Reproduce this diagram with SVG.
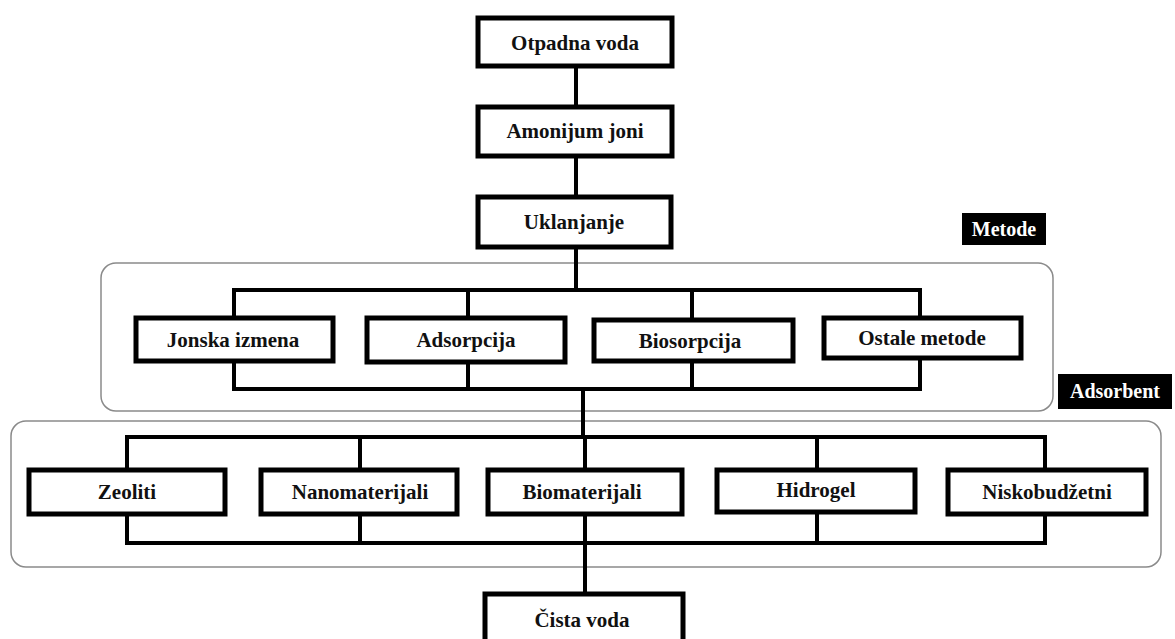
<svg xmlns="http://www.w3.org/2000/svg" width="1175" height="639" viewBox="0 0 1175 639">
<style>
.box{fill:#fff;stroke:#000;stroke-width:5}
.t{font-family:'Liberation Serif','DejaVu Serif',serif;font-weight:700;font-size:21px;fill:#111;text-anchor:middle;dominant-baseline:central}
.lbl{fill:#000}
.lt{font-family:'Liberation Serif','DejaVu Serif',serif;font-weight:700;font-size:20px;fill:#fff;text-anchor:middle;dominant-baseline:central}
.grp{fill:none;stroke:#8a8a8a;stroke-width:1.5}
.c{fill:none;stroke:#000;stroke-width:4}
</style>
<rect width="1175" height="639" fill="#fff"/>
<g id="groups">
<rect class="grp" x="101" y="263" width="952" height="148" rx="15"/>
<rect class="grp" x="11" y="421" width="1150" height="146" rx="15"/>
</g>
<g id="connectors">
<line class="c" x1="576" y1="66" x2="576" y2="107"/>
<line class="c" x1="576" y1="156" x2="576" y2="197"/>
<line class="c" x1="576" y1="247" x2="576" y2="290"/>
<polyline class="c" points="234,318 234,290 920,290 920,318"/>
<line class="c" x1="468" y1="290" x2="468" y2="318"/>
<line class="c" x1="692" y1="290" x2="692" y2="320"/>
<polyline class="c" points="234,361 234,389 920,389 920,358"/>
<line class="c" x1="468" y1="362" x2="468" y2="389"/>
<line class="c" x1="692" y1="361" x2="692" y2="389"/>
<line class="c" x1="583" y1="389" x2="583" y2="437"/>
<polyline class="c" points="127,470 127,437 1045,437 1045,470"/>
<line class="c" x1="360" y1="437" x2="360" y2="470"/>
<line class="c" x1="585" y1="437" x2="585" y2="470"/>
<line class="c" x1="817" y1="437" x2="817" y2="470"/>
<polyline class="c" points="127,514 127,543 1045,543 1045,514"/>
<line class="c" x1="360" y1="514" x2="360" y2="543"/>
<line class="c" x1="817" y1="514" x2="817" y2="543"/>
<line class="c" x1="585" y1="514" x2="585" y2="594"/>
</g>
<g id="otpadna"><rect class="box" x="478" y="18" width="194" height="48"/><text class="t" x="575" y="43">Otpadna voda</text></g>
<g id="amonijum"><rect class="box" x="478" y="107" width="194" height="49"/><text class="t" x="575" y="131">Amonijum joni</text></g>
<g id="uklanjanje"><rect class="box" x="478" y="197" width="193" height="50"/><text class="t" x="574" y="222">Uklanjanje</text></g>
<g id="metode"><rect class="lbl" x="962" y="213" width="84" height="32"/><text class="lt" x="1004" y="229">Metode</text></g>
<g id="adsorbent"><rect class="lbl" x="1058" y="374" width="114" height="35"/><text class="lt" x="1115" y="391">Adsorbent</text></g>
<g id="jonska"><rect class="box" x="136" y="318" width="197" height="43"/><text class="t" x="233" y="340">Jonska izmena</text></g>
<g id="adsorpcija"><rect class="box" x="367" y="318" width="198" height="44"/><text class="t" x="466" y="340">Adsorpcija</text></g>
<g id="biosorpcija"><rect class="box" x="594" y="320" width="199" height="41"/><text class="t" x="690" y="341">Biosorpcija</text></g>
<g id="ostale"><rect class="box" x="824" y="318" width="197" height="40"/><text class="t" x="922" y="338">Ostale metode</text></g>
<g id="zeoliti"><rect class="box" x="29" y="470" width="196" height="44"/><text class="t" x="127" y="492">Zeoliti</text></g>
<g id="nanomaterijali"><rect class="box" x="261" y="470" width="196" height="44"/><text class="t" x="360" y="492">Nanomaterijali</text></g>
<g id="biomaterijali"><rect class="box" x="488" y="470" width="194" height="44"/><text class="t" x="582" y="492">Biomaterijali</text></g>
<g id="hidrogel"><rect class="box" x="717" y="470" width="198" height="42"/><text class="t" x="816" y="490">Hidrogel</text></g>
<g id="niskobudzetni"><rect class="box" x="948" y="470" width="198" height="44"/><text class="t" x="1047" y="492">Niskobudžetni</text></g>
<g id="cista"><rect class="box" x="485" y="594" width="198" height="50"/><text class="t" x="582" y="620">Čista voda</text></g>
</svg>
